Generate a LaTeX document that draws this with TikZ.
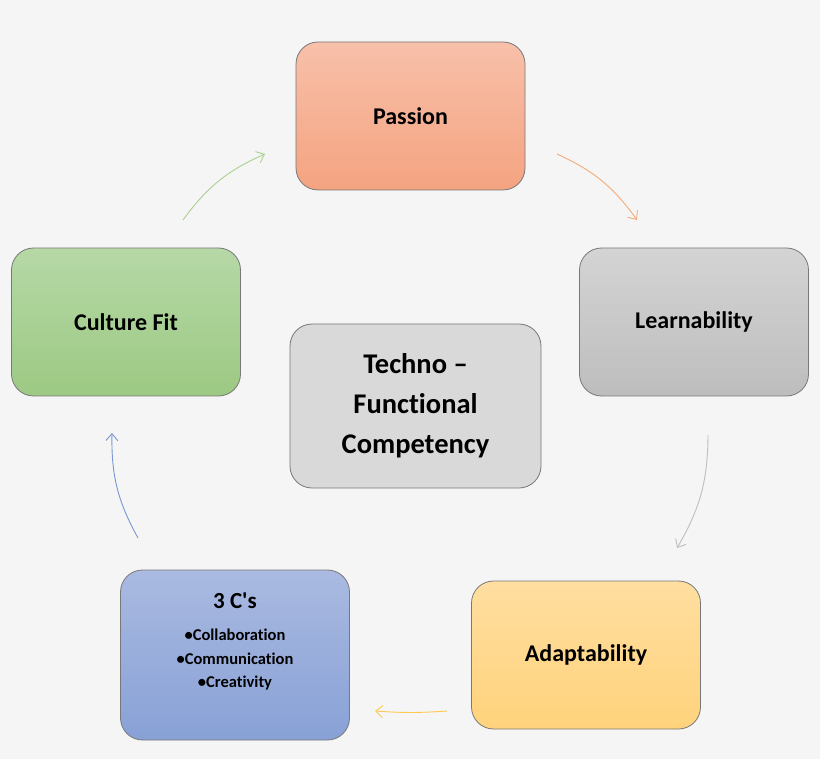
\documentclass[tikz,border=0pt]{standalone}
\usepackage{fontspec}
\setmainfont{Carlito}[Ligatures=NoCommon]
\usepackage{tikz}
\usetikzlibrary{positioning,arrows.meta,calc}
\definecolor{bgcol}{RGB}{245,245,245}
\definecolor{edgecol}{RGB}{120,120,120}
\begin{document}
\begin{tikzpicture}[x=1pt,y=-1pt,every node/.append style={font=\bfseries},
                    stage/.style={draw=edgecol, line width=0.8pt, rounded corners=22pt,
                    minimum width=229pt, minimum height=148pt, inner sep=0pt,
                    font=\fontsize{24}{28}\selectfont\bfseries},
                    flow/.style={line width=0.9pt, -{Straight Barb[length=7pt,width=12pt]}}]
    \fill[bgcol] (0,0) rectangle (820,759);
    \node[stage, top color={rgb,255:red,248;green,192;blue,170}, bottom color={rgb,255:red,244;green,163;blue,128}] (passion) at (410.5,116) {Passion};
    \node[stage, top color={rgb,255:red,212;green,212;blue,212}, bottom color={rgb,255:red,189;green,189;blue,189}] (learn) at (694,322) {Learnability};
    \node[stage, top color={rgb,255:red,255;green,222;blue,160}, bottom color={rgb,255:red,255;green,211;blue,124}] (adapt) at (586,655) {Adaptability};
    \node[stage, minimum height=170pt, top color={rgb,255:red,170;green,186;blue,225}, bottom color={rgb,255:red,136;green,161;blue,214}] (ccs) at (235,655) {};
    \node[below=23pt of ccs.north, inner sep=0pt, font=\fontsize{23}{28}\selectfont\bfseries] (ccstitle) {3 C\textquotesingle s};
    \node[below=20pt of ccstitle, align=center, inner sep=0pt, font=\fontsize{16.5}{23.5}\selectfont\bfseries] (ccslist)
         {•Collaboration\\•Communication\\•Creativity};
    \node[stage, top color={rgb,255:red,182;green,216;blue,166}, bottom color={rgb,255:red,156;green,201;blue,131}] (culture) at (126,322) {Culture Fit};
    \node[stage, minimum width=251pt, minimum height=164pt, fill={rgb,255:red,217;green,217;blue,217},
          align=center, font=\fontsize{28.5}{40}\selectfont\bfseries] (techno) at (415.5,406)
         {Techno --\\Functional\\Competency};
    \coordinate (g1) at (183,220);  \coordinate (g2) at (265,154);
    \coordinate (o1) at (557,154);  \coordinate (o2) at (637,220);
    \coordinate (k1) at (708,435);  \coordinate (k2) at (677,548);
    \coordinate (y1) at (447,711);  \coordinate (y2) at (375,711);
    \coordinate (b1) at (138,538);  \coordinate (b2) at (112,433);
    \draw[flow, color={rgb,255:red,169;green,209;blue,142}] (g1) to[bend left=15] (g2);
    \draw[flow, color={rgb,255:red,244;green,170;blue,120}] (o1) to[bend left=15] (o2);
    \draw[flow, color={rgb,255:red,190;green,190;blue,190}] (k1) to[bend left=15] (k2);
    \draw[flow, color={rgb,255:red,255;green,200;blue,80}] (y1) to[bend left=4] (y2);
    \draw[flow, color={rgb,255:red,120;green,150;blue,210}] (b1) to[bend left=15] (b2);
\end{tikzpicture}
\end{document}
